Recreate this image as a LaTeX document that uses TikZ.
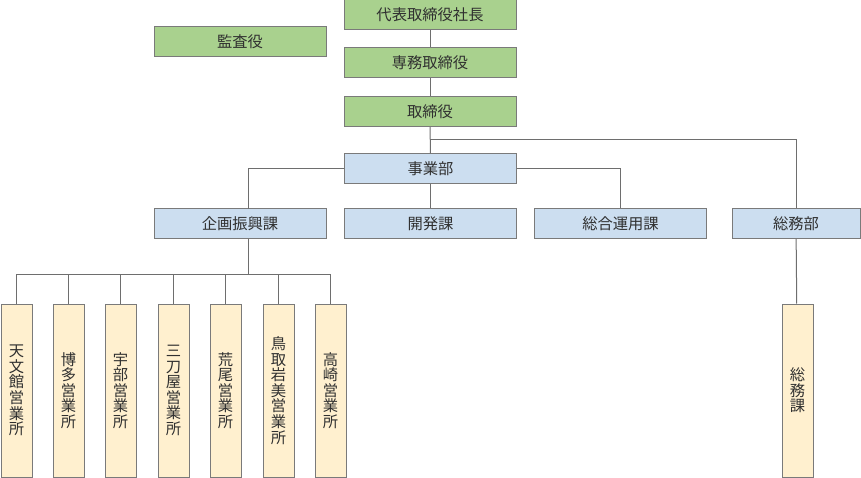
\documentclass[tikz,border=0pt]{standalone}
\usepackage{fontspec}
\setmainfont{Noto Sans CJK JP}
\usetikzlibrary{positioning}

\definecolor{yakuin}{HTML}{A9D18E}
\definecolor{honbu}{HTML}{CCDEF0}
\definecolor{eigyo}{HTML}{FFF0CF}
\definecolor{waku}{HTML}{7A7A7A}
\definecolor{moji}{HTML}{303030}

\tikzset{
  box/.style={draw=waku,line width=1pt,text=moji,minimum height=30pt,inner sep=0pt,
    font=\fontsize{15.3}{15.6}\selectfont},
  green box/.style={box,fill=yakuin,minimum width=172pt},
  blue box/.style={box,fill=honbu,minimum width=172pt},
  tate/.style={box,fill=eigyo,minimum width=31pt,minimum height=173pt,align=center},
  sen/.style={draw=waku!90!black,line width=1pt}
}

\begin{document}
\begin{tikzpicture}[x=1pt,y=-1pt]
\useasboundingbox (0,0) rectangle (861,478);

\node[green box](ceo) at(430,15){代表取締役社長};
\node[green box](kansa) at(240,42){監査役};
\node[green box](senmu) at(430,63){専務取締役};
\node[green box](tori) at(430,111.5){取締役};

\node[blue box](jigyo) at(430.5,169){事業部};
\node[blue box](kikaku) at(240,223.5){企画振興課};
\node[blue box](kaihatsu) at(430.5,223.5){開発課};
\node[blue box](sogo) at(620.5,223.5){総合運用課};
\node[blue box,minimum width=128pt](somubu) at(796,223.5){総務部};

\node[tate](e1) at(16.5,390.5){天\\文\\館\\営\\業\\所};
\node[tate](e2) at(68.5,390.5){博\\多\\営\\業\\所};
\node[tate](e3) at(120.5,390.5){宇\\部\\営\\業\\所};
\node[tate](e4) at(173.5,390.5){三\\刀\\屋\\営\\業\\所};
\node[tate](e5) at(225.5,390.5){荒\\尾\\営\\業\\所};
\node[tate](e6) at(278.5,390.5){鳥\\取\\岩\\美\\営\\業\\所};
\node[tate](e7) at(330.5,390.5){高\\崎\\営\\業\\所};
\node[tate](somuka) at(797.5,390.5){総\\務\\課};

\coordinate (bunki) at(430,140);
\coordinate (kado) at(248,209);
\coordinate (bus) at(248,274);

\draw[sen](ceo)--(senmu);
\draw[sen](senmu)--(tori);
\draw[sen](tori)--(jigyo);
\draw[sen](bunki)-|(somubu.north);
\draw[sen](jigyo.east)-|(sogo.north);
\draw[sen](jigyo.west)-|(kado);
\draw[sen](jigyo)--(kaihatsu);
\draw[sen](somubu)--(somuka);
\draw[sen](kikaku.south-|bus)--(bus);
\foreach \n in {e1,e2,e3,e4,e5,e6,e7}
  \draw[sen](bus)-|(\n.north);

\end{tikzpicture}
\end{document}
